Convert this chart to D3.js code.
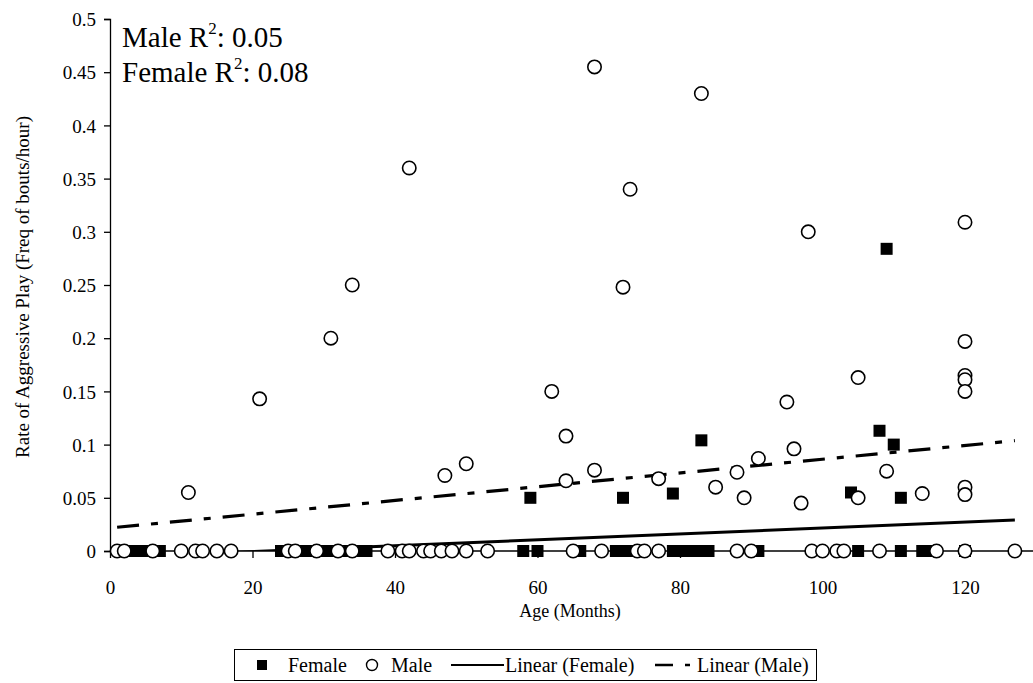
<!DOCTYPE html>
<html>
<head>
<meta charset="utf-8">
<script src="https://cdn.jsdelivr.net/npm/d3@7"></script>
<style>
  body { margin: 0; background: #fff; }
  text { font-family: "Liberation Serif", "Times New Roman", serif; fill: #000; }
</style>
</head>
<body>
<script>
// female points [age, rate]
var femaleData = [
  [2, 0], [3, 0], [4, 0], [5, 0], [7, 0],
  [24, 0], [27, 0], [28, 0], [30, 0], [31, 0], [33, 0], [35, 0], [36, 0],
  [58, 0], [59, 0.05], [60, 0], [66, 0],
  [71, 0], [72, 0], [72, 0.05], [73, 0],
  [79, 0], [79, 0.054], [80, 0], [81, 0], [82, 0], [83, 0], [83, 0.104], [84, 0],
  [91, 0], [104, 0.055], [105, 0], [108, 0.113], [109, 0.284], [110, 0.1],
  [111, 0], [111, 0.05], [114, 0], [115, 0], [120, 0]
];

// male points [age, rate]
var maleData = [
  [1, 0], [2, 0], [6, 0], [10, 0], [11, 0.055], [12, 0], [13, 0], [15, 0], [17, 0],
  [21, 0.143], [25, 0], [26, 0], [29, 0], [31, 0.2], [32, 0], [34, 0], [34, 0.25],
  [39, 0], [41, 0], [42, 0], [42, 0.36], [44, 0], [45, 0], [46.5, 0], [47, 0.071],
  [48, 0], [50, 0], [50, 0.082], [53, 0],
  [62, 0.15], [64, 0.108], [64, 0.066], [65, 0], [68, 0.455], [68, 0.076], [69, 0],
  [72, 0.248], [73, 0.34], [74, 0], [75, 0], [77, 0], [77, 0.068],
  [83, 0.43], [85, 0.06], [88, 0], [88, 0.074], [89, 0.05], [90, 0], [91, 0.087],
  [95, 0.14], [96, 0.096], [97, 0.045], [98, 0.3], [98.5, 0], [100, 0], [102, 0], [103, 0],
  [105, 0.163], [105, 0.05], [108, 0], [109, 0.075], [114, 0.054], [116, 0],
  [120, 0.309], [120, 0.197], [120, 0.165], [120, 0.161], [120, 0.15], [120, 0.06], [120, 0.053], [120, 0],
  [127, 0]
];

// trend line end points
var femaleTrend = [[3, -0.0053], [127, 0.0291]];
var maleTrend = [[1, 0.0223], [127, 0.1037]];

var xTicks = [0, 20, 40, 60, 80, 100, 120];
var yTicks = [0, 0.05, 0.1, 0.15, 0.2, 0.25, 0.3, 0.35, 0.4, 0.45, 0.5];

var width = 1033, height = 683;

var svg = d3.select("body").append("svg")
  .attr("width", width)
  .attr("height", height);

var x = d3.scaleLinear().domain([0, 140]).range([110, 1107.5]);
var y = d3.scaleLinear().domain([0, 0.5]).range([551, 19]);

svg.append("clipPath")
  .attr("id", "plotclip")
  .append("rect")
  .attr("x", 110).attr("y", 19)
  .attr("width", 997).attr("height", 532);

// axes
var yAxis = svg.append("g")
  .attr("transform", "translate(110,0)")
  .call(d3.axisLeft(y).tickValues(yTicks).tickSize(6).tickPadding(8)
    .tickFormat(d3.format("")));
var xAxis = svg.append("g")
  .attr("transform", "translate(0,551)")
  .call(d3.axisBottom(x).tickValues(xTicks).tickSize(7).tickPadding(29));

[xAxis, yAxis].forEach(function (g) {
  g.select(".domain").attr("stroke", "#000").attr("stroke-width", 1.3);
  g.selectAll(".tick line").attr("stroke", "#000").attr("stroke-width", 1.3);
  g.selectAll(".tick text").attr("font-size", 19);
});
xAxis.select(".domain").attr("d", "M110,0H1033");
yAxis.selectAll(".tick text").attr("dy", "0.35em");
xAxis.selectAll(".tick text").attr("dy", "0.35em");

// trend lines
var line = d3.line().x((d) => x(d[0])).y((d) => y(d[1]));
var trends = svg.append("g").attr("clip-path", "url(#plotclip)");
trends.append("path")
  .attr("d", line(femaleTrend))
  .attr("fill", "none")
  .attr("stroke", "#000")
  .attr("stroke-width", 3);
trends.append("path")
  .attr("d", line(maleTrend))
  .attr("fill", "none")
  .attr("stroke", "#000")
  .attr("stroke-width", 3.2)
  .attr("stroke-dasharray", "22,12,7,12");

// points
svg.append("g").selectAll("rect")
  .data(femaleData)
  .join("rect")
  .attr("x", (d) => x(d[0]) - 6)
  .attr("y", (d) => y(d[1]) - 6)
  .attr("width", 12)
  .attr("height", 12)
  .attr("fill", "#000");

svg.append("g").selectAll("circle")
  .data(maleData)
  .join("circle")
  .attr("cx", (d) => x(d[0]))
  .attr("cy", (d) => y(d[1]))
  .attr("r", 6.7)
  .attr("fill", "#fff")
  .attr("stroke", "#000")
  .attr("stroke-width", 1.6);

// R squared notes
var note = svg.append("g").attr("font-size", 29);
var t1 = note.append("text").attr("x", 122).attr("y", 47);
t1.append("tspan").text("Male R");
t1.append("tspan").attr("font-size", 17).attr("dy", -13).text("2");
t1.append("tspan").attr("dy", 13).text(": 0.05");
var t2 = note.append("text").attr("x", 122).attr("y", 82);
t2.append("tspan").text("Female R");
t2.append("tspan").attr("font-size", 17).attr("dy", -13).text("2");
t2.append("tspan").attr("dy", 13).text(": 0.08");

// axis titles
svg.append("text")
  .attr("x", 570).attr("y", 617)
  .attr("text-anchor", "middle")
  .attr("font-size", 18)
  .text("Age (Months)");
svg.append("text")
  .attr("transform", "translate(29,287) rotate(-90)")
  .attr("text-anchor", "middle")
  .attr("font-size", 19)
  .text("Rate of Aggressive Play (Freq of bouts/hour)");

// legend
var legend = svg.append("g").attr("font-size", 20);
legend.append("rect")
  .attr("x", 234.5).attr("y", 649.5)
  .attr("width", 582).attr("height", 31)
  .attr("fill", "#fff")
  .attr("stroke", "#000")
  .attr("stroke-width", 1);
legend.append("rect")
  .attr("x", 257).attr("y", 660).attr("width", 10).attr("height", 10)
  .attr("fill", "#000");
legend.append("text").attr("x", 288).attr("y", 672).text("Female");
legend.append("circle")
  .attr("cx", 372).attr("cy", 665).attr("r", 5.5)
  .attr("fill", "#fff").attr("stroke", "#000").attr("stroke-width", 1.4);
legend.append("text").attr("x", 391).attr("y", 672).text("Male");
legend.append("line")
  .attr("x1", 451).attr("x2", 504).attr("y1", 665).attr("y2", 665)
  .attr("stroke", "#000").attr("stroke-width", 2.2);
legend.append("text").attr("x", 505).attr("y", 672).text("Linear (Female)");
legend.append("line")
  .attr("x1", 655).attr("x2", 690).attr("y1", 665).attr("y2", 665)
  .attr("stroke", "#000").attr("stroke-width", 2.4)
  .attr("stroke-dasharray", "18,12,5,12");
legend.append("text").attr("x", 697).attr("y", 672).text("Linear (Male)");
</script>
</body>
</html>
